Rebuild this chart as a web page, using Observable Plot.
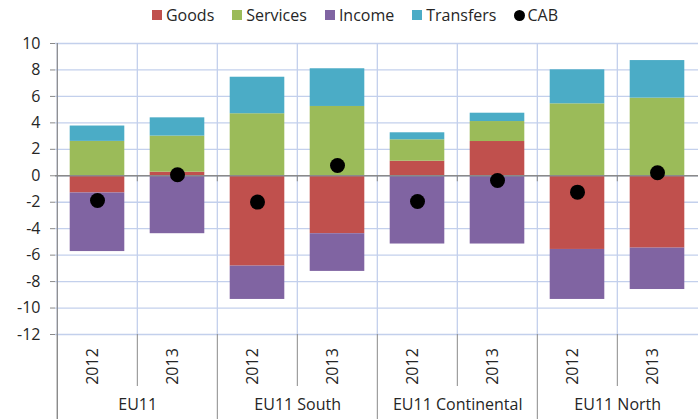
<!DOCTYPE html>
<html>
<head>
<meta charset="utf-8">
<script src="https://cdn.jsdelivr.net/npm/d3@7"></script>
<script src="https://cdn.jsdelivr.net/npm/@observablehq/plot@0.6"></script>
<style>
  html, body { margin: 0; padding: 0; background: #fff; }
  body { width: 698px; height: 419px; overflow: hidden; font-family: "Open Sans", sans-serif; color: #262626; }
  #legend { height: 30px; display: flex; justify-content: center; align-items: center; font-size: 16px; padding-left: 12px; box-sizing: border-box; }
  .item { display: flex; align-items: center; margin: 0 9px; }
  .sw { width: 10px; height: 10px; margin-right: 4px; display: inline-block; }
  .dotsw { width: 11px; height: 11px; border-radius: 50%; background: #000; margin-right: 2px; display: inline-block; }
</style>
</head>
<body>
<div id="legend"></div>
<div id="chart"></div>
<script>
const groups = ["EU11", "EU11 South", "EU11 Continental", "EU11 North"];
const years = ["2012", "2013"];
const series = ["Goods", "Services", "Income", "Transfers"];
const colors = ["#c0504d", "#9bbb59", "#8064a2", "#4bacc6"];
// values per bar in order: EU11 2012, EU11 2013, South 2012, South 2013, Continental 2012, Continental 2013, North 2012, North 2013
const goods     = [-1.30,  0.27, -6.83, -4.38,  1.10,  2.59, -5.57, -5.47];
const services  = [ 2.60,  2.73,  4.69,  5.24,  1.62,  1.51,  5.44,  5.87];
const income    = [-4.43, -4.38, -2.52, -2.85, -5.16, -5.16, -3.78, -3.13];
const transfers = [ 1.16,  1.38,  2.76,  2.85,  0.53,  0.63,  2.57,  2.84];
const cab       = [-1.87,  0.08, -1.99,  0.78, -1.94, -0.36, -1.24,  0.23];
const yTicks = [-12, -10, -8, -6, -4, -2, 0, 2, 4, 6, 8, 10];

const keys = [];
groups.forEach(g => years.forEach(y => keys.push(g + "|" + y)));
const seriesValues = [goods, services, income, transfers];
const table = [];
keys.forEach((k, i) => series.forEach((s, j) => table.push({key: k, series: s, value: seriesValues[j][i]})));
const cabRows = keys.map((k, i) => ({key: k, value: cab[i]}));
const firstKeys = keys.filter(k => k.endsWith("|" + years[0]));
const secondKeys = keys.filter(k => k.endsWith("|" + years[1]));

// legend
const legend = document.getElementById("legend");
series.forEach((s, j) => {
  const it = document.createElement("div");
  it.className = "item";
  it.innerHTML = `<span class="sw" style="background:${colors[j]}"></span><span>${s}</span>`;
  legend.appendChild(it);
});
const cabItem = document.createElement("div");
cabItem.className = "item";
cabItem.innerHTML = `<span class="dotsw"></span><span>CAB</span>`;
legend.appendChild(cabItem);

const W = 698, H = 389, ML = 55, MR = 0, MT = 13, MB = 85;
const bw = (W - ML - MR) / keys.length;
const gridColor = "#c3d0ec";
const axisColor = "#8a8a8a";
const textColor = "#262626";

const chart = Plot.plot({
  width: W,
  height: H,
  marginLeft: ML,
  marginRight: MR,
  marginTop: MT,
  marginBottom: MB,
  style: {fontFamily: "Open Sans", fontSize: "16px", color: textColor, background: "#fff"},
  x: {domain: keys, padding: 0, axis: null},
  y: {domain: [-12, 10]},
  color: {domain: series, range: colors},
  marks: [
    Plot.ruleY(yTicks, {stroke: gridColor, strokeWidth: 1.3}),
    Plot.ruleX(keys, {x: d => d, dx: -bw / 2, stroke: gridColor, strokeWidth: 1.3}),
    Plot.ruleX(secondKeys, {x: d => d, dx: -bw / 2, y1: -12, y2: -12, insetBottom: -52, stroke: axisColor}),
    Plot.ruleX(firstKeys, {x: d => d, dx: -bw / 2, y1: -12, y2: -12, insetBottom: -MB, stroke: axisColor}),
    Plot.ruleX([keys[0]], {x: d => d, dx: -bw / 2, insetBottom: -MB, stroke: axisColor, strokeWidth: 1.2}),
    Plot.barY(table, {x: "key", y: "value", fill: "series", insetLeft: 12.7, insetRight: 12.7}),
    Plot.ruleY([0], {stroke: axisColor, strokeWidth: 1.5}),
    Plot.ruleX(keys.slice(1), {x: d => d, dx: -bw / 2, y1: 0, y2: 0, insetBottom: -6, stroke: axisColor}),
    Plot.dot(cabRows, {x: "key", y: "value", r: 7.5, fill: "#000", stroke: "none"}),
    Plot.axisY(yTicks, {tickSize: 5, tickPadding: 10, tickFormat: d => String(d), stroke: axisColor, fill: textColor, fontSize: 16, label: null}),
    Plot.text(keys, {x: d => d, text: d => d.split("|")[1], frameAnchor: "bottom", dy: 32, rotate: -90, fill: textColor, fontSize: 16}),
    Plot.text(firstKeys, {x: d => d, dx: bw / 2, text: d => d.split("|")[0], frameAnchor: "bottom", dy: 75, fill: textColor, fontSize: 16})
  ]
});
document.getElementById("chart").appendChild(chart);
</script>
</body>
</html>
